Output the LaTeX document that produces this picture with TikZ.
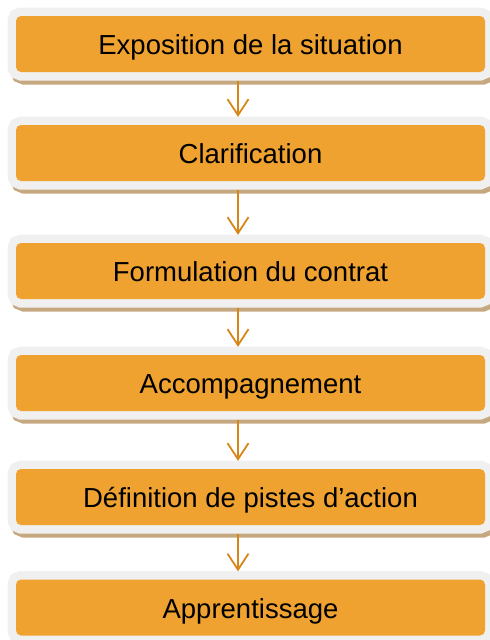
\documentclass[tikz,border=0pt]{standalone}
\usepackage{fontspec}
\setmainfont{Liberation Sans}
\usetikzlibrary{arrows.meta}
\usetikzlibrary{positioning}
\definecolor{stepOrange}{RGB}{239,162,48}
\definecolor{frameGray}{RGB}{240,240,240}
\definecolor{shadowTan}{RGB}{198,168,128}
\definecolor{arrowOrange}{RGB}{214,135,26}

\begin{document}
\begin{tikzpicture}[x=1pt,y=-1pt,
  stepbox/.style={rectangle,rounded corners=5pt,fill=stepOrange,text=black,
    minimum width=469pt,minimum height=56pt,font=\fontsize{27.5}{30}\selectfont,
    text height=21pt,text depth=0pt,
    preaction={draw=shadowTan,line width=17pt,transform canvas={xshift=3pt,yshift=-4pt}},
    preaction={draw=frameGray,line width=17pt}},
  flow/.style={draw=arrowOrange,line width=1.8pt,-{Straight Barb[length=16pt,width=21pt]},
    shorten <=8.5pt,shorten >=8pt}]
\useasboundingbox (0,0) rectangle (490,640);

\node[stepbox] (expo) at (250.5,44) {Exposition de la situation};
\node[stepbox] (clar) at (250.5,153) {Clarification};
\node[stepbox] (form) at (250.5,271) {Formulation du contrat};
\node[stepbox] (acco) at (250.5,383) {Accompagnement};
\node[stepbox] (pist) at (250.5,497) {Définition de pistes d’action};
\node[stepbox] (appr) at (250.5,607.5) {Apprentissage};

\draw[flow] ([xshift=-12.5pt]expo.south) -- ([xshift=-12.5pt]clar.north);
\draw[flow] ([xshift=-12.5pt]clar.south) -- ([xshift=-12.5pt]form.north);
\draw[flow] ([xshift=-12.5pt]form.south) -- ([xshift=-12.5pt]acco.north);
\draw[flow] ([xshift=-12.5pt]acco.south) -- ([xshift=-12.5pt]pist.north);
\draw[flow] ([xshift=-12.5pt]pist.south) -- ([xshift=-12.5pt]appr.north);

\end{tikzpicture}
\end{document}
